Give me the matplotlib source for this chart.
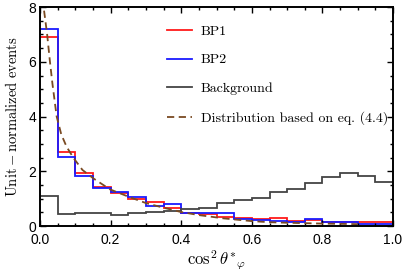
import numpy as np
import matplotlib
matplotlib.use("Agg")
import matplotlib.pyplot as plt
from matplotlib.ticker import MultipleLocator

plt.rcParams['mathtext.fontset'] = 'cm'

bin_edges = np.linspace(0.0, 1.0, 21)
bp1 = [6.9, 2.71, 1.95, 1.43, 1.19, 0.97, 0.88, 0.67, 0.47, 0.43,
       0.34, 0.30, 0.25, 0.30, 0.18, 0.21, 0.16, 0.13, 0.15, 0.15]
bp2 = [7.2, 2.53, 1.82, 1.40, 1.24, 1.05, 0.72, 0.80, 0.49, 0.46,
       0.46, 0.26, 0.21, 0.20, 0.16, 0.25, 0.15, 0.13, 0.09, 0.07]
background = [1.10, 0.43, 0.49, 0.47, 0.41, 0.49, 0.52, 0.56, 0.62, 0.67,
              0.83, 0.95, 1.04, 1.25, 1.35, 1.58, 1.80, 1.92, 1.84, 1.62]

curve_x = [0.006, 0.010, 0.020, 0.028, 0.035, 0.047, 0.060, 0.075, 0.094, 0.120,
           0.151, 0.198, 0.255, 0.302, 0.350, 0.397, 0.450, 0.520, 0.600, 0.650,
           0.700, 0.800, 0.900]
curve_y = [8.6, 8.0, 7.0, 6.0, 5.2, 4.0, 3.35, 2.9, 2.5, 2.05,
           1.74, 1.34, 1.05, 0.83, 0.67, 0.52, 0.40, 0.28, 0.18, 0.14,
           0.12, 0.09, 0.07]

fig = plt.figure(figsize=(4.09, 2.73), dpi=100)
ax = fig.add_axes([0.098, 0.172, 0.863, 0.802])

ax.stairs(bp1, bin_edges, baseline=None, color='#ff1a1a', lw=1.3, label='BP1')
ax.stairs(bp2, bin_edges, baseline=None, color='#1a1aff', lw=1.3, label='BP2')
ax.stairs(background, bin_edges, baseline=None, color='#444444', lw=1.3, label='Background')
ax.plot(curve_x, curve_y, color='#7a4a22', lw=1.3, ls=(0, (4, 2.5)),
        label='Distribution based on eq. (4.4)')

ax.set_xlim(0, 1)
ax.set_ylim(0, 8)
ax.xaxis.set_major_locator(MultipleLocator(0.2))
ax.xaxis.set_minor_locator(MultipleLocator(0.05))
ax.yaxis.set_major_locator(MultipleLocator(2))
ax.yaxis.set_minor_locator(MultipleLocator(0.5))
ax.tick_params(which='both', direction='in', top=True, right=True,
               labelsize=10, width=1.0)
ax.tick_params(which='major', length=4)
ax.tick_params(which='minor', length=2.5)
ax.tick_params(axis='x', which='major', pad=5)
ax.tick_params(axis='y', which='major', pad=3)
for lab in ax.get_xticklabels() + ax.get_yticklabels():
    lab.set_fontfamily('Liberation Sans')
for s in ax.spines.values():
    s.set_linewidth(1.4)

ax.set_xlabel(r'$\cos^2\theta^{*}{}_{\varphi}$', fontsize=12, labelpad=1)
ax.set_ylabel(r'$\mathrm{Unit-normalized\ events}$', fontsize=10.5, labelpad=6)

leg = ax.legend(loc='upper left', bbox_to_anchor=(0.325, 0.975), frameon=False,
                prop={'family': 'cmr10', 'size': 10}, labelspacing=1.15,
                handlelength=1.8, handletextpad=0.6)

fig.savefig('out.png', dpi=100)
